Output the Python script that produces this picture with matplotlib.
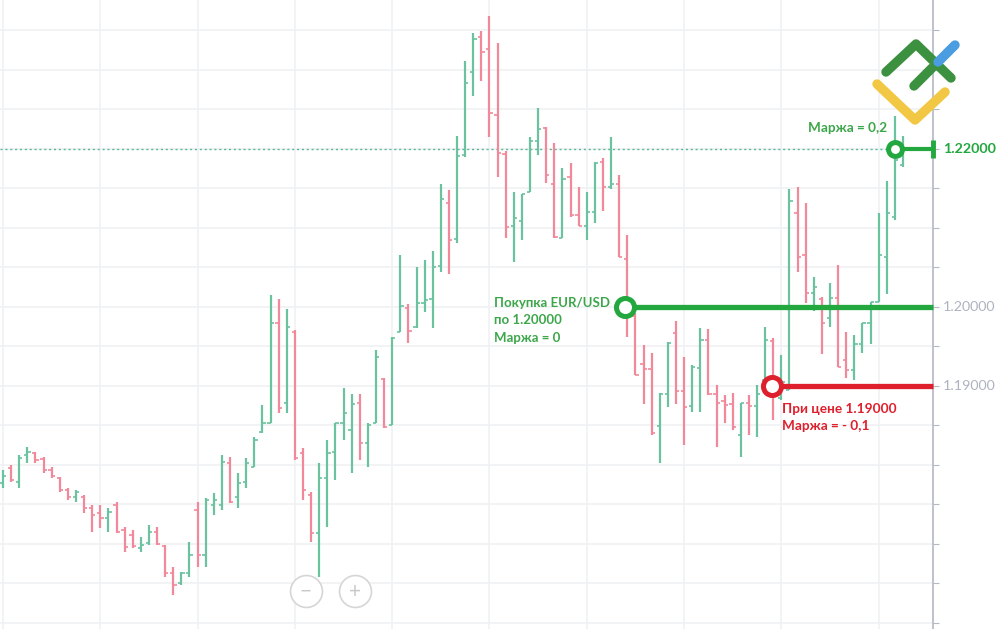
import matplotlib
matplotlib.use("Agg")
import matplotlib.pyplot as plt
import numpy as np
from matplotlib.lines import Line2D

# EUR/USD bars (open, high, low, close)
opens = [1.1777, 1.1796, 1.1778, 1.1813, 1.1815, 1.1808, 1.1794, 1.1784, 1.1768, 1.1759,
         1.1759, 1.1746, 1.1739, 1.1733, 1.1749, 1.1718, 1.1711, 1.1695, 1.1701, 1.1715,
         1.1697, 1.1663, 1.1651, 1.1663, 1.1743, 1.1686, 1.1749, 1.1749, 1.1803, 1.1759,
         1.1778, 1.1797, 1.1842, 1.1853, 1.1980, 1.1878, 1.1968, 1.1815, 1.1762, 1.1714,
         1.1784, 1.1816, 1.1853, 1.1844, 1.1878, 1.1828, 1.1853, 1.1909, 1.1851, 1.1968,
         1.1999, 1.1975, 1.2005, 1.2010, 1.2052, 1.2132, 1.2086, 1.2192, 1.2297, 1.2342,
         1.2327, 1.2243, 1.2194, 1.2103, 1.2109, 1.2146, 1.2210, 1.2227, 1.2156, 1.2087,
         1.2165, 1.2116, 1.2103, 1.2120, 1.2184, 1.2152, 1.2156, 1.2061, 1.1989, 1.1928,
         1.1922, 1.1849, 1.1890, 1.1967, 1.1894, 1.1875, 1.1923, 1.1958, 1.1890, 1.1881,
         1.1877, 1.1838, 1.1878, 1.1875, 1.1908, 1.1957, 1.1885, 1.1895, 1.2119, 1.2066,
         1.2018, 1.2010, 1.1986, 1.2011, 1.1933, 1.1920, 1.1953, 1.1980, 1.2006, 1.2063,
         1.2114, 1.2180]
highs = [1.1794, 1.1800, 1.1813, 1.1823, 1.1816, 1.1810, 1.1797, 1.1785, 1.1771, 1.1768,
         1.1762, 1.1749, 1.1749, 1.1746, 1.1753, 1.1722, 1.1718, 1.1709, 1.1724, 1.1722,
         1.1699, 1.1671, 1.1665, 1.1703, 1.1753, 1.1758, 1.1765, 1.1813, 1.1810, 1.1790,
         1.1809, 1.1835, 1.1876, 1.2015, 1.2010, 1.1997, 1.1971, 1.1822, 1.1766, 1.1803,
         1.1832, 1.1853, 1.1897, 1.1890, 1.1890, 1.1853, 1.1946, 1.1910, 1.1962, 1.2066,
         1.2004, 1.2051, 1.2059, 1.2071, 1.2156, 1.2148, 1.2216, 1.2311, 1.2347, 1.2349,
         1.2368, 1.2334, 1.2197, 1.2146, 1.2143, 1.2215, 1.2252, 1.2228, 1.2208, 1.2176,
         1.2182, 1.2152, 1.2146, 1.2184, 1.2189, 1.2215, 1.2167, 1.2091, 1.1992, 1.1952,
         1.1942, 1.1891, 1.1956, 1.1982, 1.1937, 1.1927, 1.1973, 1.1972, 1.1901, 1.1889,
         1.1891, 1.1878, 1.1889, 1.1901, 1.1975, 1.1961, 1.1939, 1.2149, 1.2152, 1.2132,
         1.2038, 1.2013, 1.2030, 1.2053, 1.1968, 1.1965, 1.1980, 1.2006, 1.2119, 1.2159,
         1.2242, 1.2216]
lows = [1.1771, 1.1778, 1.1771, 1.1803, 1.1803, 1.1790, 1.1784, 1.1766, 1.1756, 1.1753,
        1.1739, 1.1715, 1.1720, 1.1715, 1.1714, 1.1690, 1.1695, 1.1690, 1.1699, 1.1699,
        1.1658, 1.1635, 1.1648, 1.1658, 1.1671, 1.1671, 1.1737, 1.1743, 1.1752, 1.1746,
        1.1771, 1.1797, 1.1841, 1.1853, 1.1866, 1.1866, 1.1806, 1.1756, 1.1703, 1.1658,
        1.1722, 1.1781, 1.1832, 1.1790, 1.1806, 1.1797, 1.1853, 1.1847, 1.1851, 1.1968,
        1.1954, 1.1973, 1.1994, 1.1973, 1.2044, 1.2042, 1.2081, 1.2190, 1.2267, 1.2286,
        1.2215, 1.2165, 1.2087, 1.2057, 1.2085, 1.2146, 1.2192, 1.2157, 1.2087, 1.2087,
        1.2114, 1.2103, 1.2085, 1.2106, 1.2122, 1.2149, 1.2063, 1.1962, 1.1914, 1.1877,
        1.1838, 1.1803, 1.1873, 1.1877, 1.1825, 1.1867, 1.1867, 1.1889, 1.1823, 1.1853,
        1.1844, 1.1810, 1.1838, 1.1835, 1.1904, 1.1857, 1.1882, 1.1895, 1.2044, 1.2005,
        1.1995, 1.1941, 1.1975, 1.1924, 1.1910, 1.1908, 1.1942, 1.1953, 1.2006, 1.2016,
        1.2110, 1.2177]
closes = [1.1786, 1.1781, 1.1809, 1.1816, 1.1806, 1.1794, 1.1786, 1.1768, 1.1759, 1.1766,
          1.1746, 1.1737, 1.1733, 1.1741, 1.1715, 1.1696, 1.1697, 1.1699, 1.1715, 1.1700,
          1.1663, 1.1648, 1.1663, 1.1686, 1.1686, 1.1756, 1.1756, 1.1804, 1.1753, 1.1777,
          1.1803, 1.1832, 1.1853, 1.1980, 1.1872, 1.1975, 1.1809, 1.1768, 1.1714, 1.1784,
          1.1815, 1.1853, 1.1866, 1.1877, 1.1828, 1.1851, 1.1937, 1.1848, 1.1961, 1.2001,
          1.1970, 1.2005, 1.2009, 1.2051, 1.2137, 1.2085, 1.2191, 1.2284, 1.2339, 1.2323,
          1.2246, 1.2195, 1.2101, 1.2113, 1.2143, 1.2210, 1.2225, 1.2167, 1.2089, 1.2162,
          1.2116, 1.2103, 1.2120, 1.2182, 1.2152, 1.2156, 1.2063, 1.1996, 1.1914, 1.1922,
          1.1841, 1.1890, 1.1954, 1.1894, 1.1873, 1.1924, 1.1958, 1.1890, 1.1878, 1.1876,
          1.1848, 1.1878, 1.1875, 1.1890, 1.1958, 1.1901, 1.1905, 1.2134, 1.2063, 1.2018,
          1.2025, 1.1980, 1.2011, 1.1924, 1.1920, 1.1953, 1.1980, 1.2006, 1.2066, 1.2119,
          1.2186, 1.2200]

# annotated levels
entry_price = 1.20
loss_price = 1.19
profit_price = 1.22
entry_bar, loss_bar, profit_bar = 76.7, 94.8, 110.0
label_prices = [1.22, 1.20, 1.19]

GREEN_BAR = "#6cc29e"
RED_BAR = "#f2899a"
GREEN = "#22a83e"
TEXT_GREEN = "#3ca64a"
RED = "#de1f2c"
GRID = "#f0f1f4"
AXIS_GRAY = "#b4b8c2"

plt.rcParams["font.family"] = ["Lato", "DejaVu Sans"]

fig = plt.figure(figsize=(10, 6.29), dpi=100)
ax = fig.add_axes([0, 0, 0.933, 1])
x_max = 114.7
y_lo, y_hi = 1.15924, 1.23886
ax.set_xlim(-0.37, x_max)
ax.set_ylim(y_lo, y_hi)

# grid
for gx in range(0, 112, 12):
    ax.axvline(gx, color=GRID, lw=1.2, zorder=0)
for gy in np.arange(1.160, 1.2376, 0.005):
    ax.axhline(gy, color=GRID, lw=1.2, zorder=0)

# OHLC bars
idx = np.arange(len(opens))
o = np.array(opens); h = np.array(highs); l = np.array(lows); c = np.array(closes)
cols = [GREEN_BAR if cc >= oo else RED_BAR for oo, cc in zip(o, c)]
ax.vlines(idx, l, h, colors=cols, lw=1.6, zorder=2)
ax.hlines(o, idx - 0.4, idx, colors=cols, lw=1.2, zorder=2)
ax.hlines(c, idx, idx + 0.4, colors=cols, lw=1.2, zorder=2)

# last price dotted line
ax.axhline(closes[-1], color="#5ab89a", lw=1, ls=(0, (1.5, 2)), zorder=1)

# annotation lines and rings
ax.plot([entry_bar, x_max], [entry_price, entry_price], color=GREEN, lw=3.8,
        solid_capstyle="butt", zorder=4, clip_on=False)
ax.plot([loss_bar, x_max], [loss_price, loss_price], color=RED, lw=3.8,
        solid_capstyle="butt", zorder=4, clip_on=False)
ax.plot([profit_bar, x_max], [profit_price, profit_price], color=GREEN, lw=3,
        solid_capstyle="butt", zorder=4, clip_on=False)
ax.vlines(x_max, profit_price - 0.0011, profit_price + 0.0011, color=GREEN, lw=3.5,
          zorder=5, clip_on=False)
for bx, py, col, ms in [(entry_bar, entry_price, GREEN, 13), (loss_bar, loss_price, RED, 13),
                        (profit_bar, profit_price, GREEN, 10)]:
    ax.plot([bx], [py], marker="o", ms=ms, mfc="white", mec=col, mew=3.6, zorder=6)

ax.text(entry_bar - 16.1, entry_price + 0.0013, "Покупка EUR/USD\nпо 1.20000\nМаржа = 0",
        color=TEXT_GREEN, fontsize=9.5, fontweight="bold", va="top", ha="left",
        linespacing=1.55)
ax.text(loss_bar + 1.3, loss_price - 0.0021, "При цене 1.19000\nМаржа = - 0,1",
        color=RED, fontsize=9.8, fontweight="bold", va="top", ha="left", linespacing=1.5)
ax.text(profit_bar - 0.9, profit_price + 0.0026, "Маржа = 0,2", color=TEXT_GREEN,
        fontsize=9.8, fontweight="bold", va="center", ha="right")

# right price axis
for s in ["top", "left", "bottom"]:
    ax.spines[s].set_visible(False)
ax.spines["right"].set_color(AXIS_GRAY)
ax.spines["right"].set_linewidth(1.2)
ax.set_xticks([])
ax.yaxis.tick_right()
ax.set_yticks(np.arange(1.160, 1.2376, 0.005))
ax.tick_params(axis="y", length=4, color=AXIS_GRAY, labelright=False)

for p in label_prices:
    yf = (p - y_lo) / (y_hi - y_lo)
    if p == profit_price:
        fig.text(0.943, yf, "%.5f" % p, color=GREEN, fontsize=10.3, fontweight="bold",
                 va="center", ha="left")
    else:
        fig.text(0.943, yf, "%.5f" % p, color="#aeb3c0", fontsize=10.3, va="center", ha="left")

# zoom buttons
for cx, sym in [(306, "\u2212"), (355, "+")]:
    fig.add_artist(Line2D([cx / 1000], [1 - 591 / 629], marker="o", ms=23, mfc="white",
                          mec="#d6d6d6", mew=1.2, transform=fig.transFigure))
    fig.text(cx / 1000, 1 - 592 / 629, sym, color="#c8c8c8", fontsize=15,
             ha="center", va="center")


def px(x, y):
    return x / 1000, 1 - y / 629


# logo
for pts, col in [([(877, 84), (915, 120), (945, 92)], "#f2c744"),
                 ([(886, 72), (916, 44), (951, 78)], "#3c9140"),
                 ([(914, 86), (932, 68)], "#3c9140"),
                 ([(938, 62), (955, 45)], "#4a9de0")]:
    xs, ys = zip(*[px(a, b) for a, b in pts])
    fig.add_artist(Line2D(xs, ys, color=col, lw=6.8, solid_capstyle="round",
                          solid_joinstyle="round", transform=fig.transFigure))

fig.savefig("out.png", dpi=100)
